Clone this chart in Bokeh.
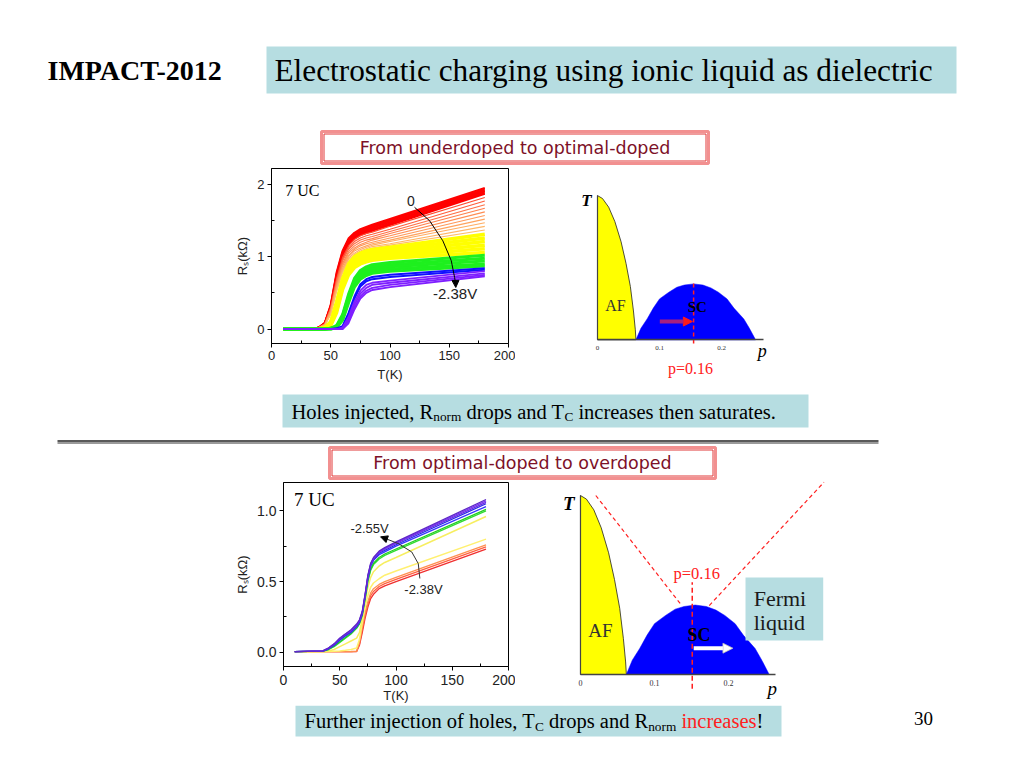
from bokeh.plotting import figure
from bokeh.layouts import column, row
from bokeh.models import Range1d, Arrow, NormalHead, Spacer, FixedTicker, CustomJSTickFormatter
from bokeh.embed import file_html
from bokeh.resources import INLINE
from bokeh.core.properties import value

# ---------------- upper panel: underdoped -> optimal (0 V ... -2.38 V) ----------------
top_T = [10, 35, 40, 45, 50, 55, 60, 65, 70, 75, 80, 85, 100, 180]
top_red_R = [
    [0, 0, 0.02, 0.08, 0.33, 0.78, 1.08, 1.25, 1.33, 1.38, 1.41, 1.44, 1.52, 1.95],
    [0, 0, 0.02, 0.08, 0.32, 0.76, 1.06, 1.23, 1.31, 1.36, 1.39, 1.42, 1.50, 1.93],
    [0, 0, 0.02, 0.08, 0.31, 0.74, 1.04, 1.21, 1.29, 1.34, 1.37, 1.40, 1.48, 1.91],
    [0, 0, 0.02, 0.08, 0.30, 0.72, 1.02, 1.19, 1.27, 1.32, 1.35, 1.38, 1.46, 1.89],
    [0, 0, 0.02, 0.07, 0.29, 0.70, 1.00, 1.17, 1.25, 1.30, 1.33, 1.36, 1.44, 1.87],
]
top_salmon_R = [
    [0, 0, 0.02, 0.07, 0.30, 0.70, 0.99, 1.15, 1.24, 1.29, 1.32, 1.34, 1.42, 1.82],
    [0, 0, 0.02, 0.07, 0.29, 0.68, 0.96, 1.12, 1.21, 1.26, 1.29, 1.31, 1.38, 1.77],
    [0, 0, 0.02, 0.07, 0.28, 0.66, 0.94, 1.10, 1.18, 1.23, 1.26, 1.28, 1.35, 1.72],
    [0, 0, 0.02, 0.06, 0.27, 0.64, 0.91, 1.07, 1.15, 1.20, 1.23, 1.25, 1.32, 1.67],
    [0, 0, 0.02, 0.06, 0.26, 0.62, 0.89, 1.05, 1.12, 1.17, 1.20, 1.23, 1.29, 1.62],
    [0, 0, 0.02, 0.06, 0.25, 0.60, 0.87, 1.02, 1.10, 1.15, 1.18, 1.20, 1.26, 1.57],
    [0, 0, 0.02, 0.06, 0.24, 0.58, 0.84, 1.00, 1.08, 1.12, 1.15, 1.18, 1.23, 1.52],
    [0, 0, 0.01, 0.05, 0.22, 0.56, 0.82, 0.98, 1.05, 1.10, 1.13, 1.16, 1.21, 1.47],
    [0, 0, 0.01, 0.05, 0.21, 0.54, 0.80, 0.96, 1.03, 1.08, 1.11, 1.14, 1.18, 1.42],
    [0, 0, 0.01, 0.05, 0.20, 0.52, 0.78, 0.94, 1.01, 1.06, 1.09, 1.12, 1.16, 1.37],
]
top_yellow_R = [
    [0, 0, 0, 0.02, 0.10, 0.38, 0.70, 0.90, 1.00, 1.05, 1.08, 1.10, 1.13, 1.31],
    [0, 0, 0, 0.02, 0.09, 0.35, 0.67, 0.87, 0.97, 1.02, 1.05, 1.07, 1.10, 1.26],
    [0, 0, 0, 0.01, 0.08, 0.32, 0.64, 0.84, 0.94, 0.99, 1.02, 1.04, 1.07, 1.21],
    [0, 0, 0, 0.01, 0.07, 0.29, 0.61, 0.81, 0.91, 0.96, 0.99, 1.01, 1.04, 1.16],
    [0, 0, 0, 0.01, 0.06, 0.26, 0.58, 0.78, 0.88, 0.93, 0.96, 0.98, 1.01, 1.11],
    [0, 0, 0, 0.01, 0.05, 0.23, 0.55, 0.75, 0.85, 0.90, 0.93, 0.95, 0.98, 1.06],
]
top_green_R = [
    [0, 0, 0, 0, 0.01, 0.05, 0.20, 0.48, 0.70, 0.81, 0.86, 0.89, 0.92, 1.02],
    [0, 0, 0, 0, 0.01, 0.04, 0.18, 0.45, 0.67, 0.78, 0.83, 0.86, 0.89, 0.98],
    [0, 0, 0, 0, 0.01, 0.03, 0.16, 0.42, 0.64, 0.75, 0.80, 0.83, 0.86, 0.94],
    [0, 0, 0, 0, 0, 0.03, 0.14, 0.39, 0.61, 0.72, 0.77, 0.80, 0.83, 0.90],
    [0, 0, 0, 0, 0, 0.02, 0.12, 0.36, 0.58, 0.69, 0.74, 0.77, 0.80, 0.87],
]
top_blue_R = [
    [0, 0, 0, 0, 0, 0.01, 0.04, 0.22, 0.45, 0.62, 0.69, 0.72, 0.75, 0.84],
    [0, 0, 0, 0, 0, 0, 0.03, 0.20, 0.42, 0.59, 0.66, 0.69, 0.72, 0.82],
]
top_violet_R = [
    [0, 0, 0, 0, 0, 0, 0.02, 0.17, 0.38, 0.53, 0.61, 0.64, 0.67, 0.80],
    [0, 0, 0, 0, 0, 0, 0.01, 0.14, 0.34, 0.49, 0.57, 0.61, 0.64, 0.77],
    [0, 0, 0, 0, 0, 0, 0, 0.11, 0.30, 0.45, 0.53, 0.57, 0.61, 0.75],
    [0, 0, 0, 0, 0, 0, 0, 0.08, 0.27, 0.42, 0.50, 0.54, 0.58, 0.73],
]

# ---------------- lower panel: optimal -> overdoped (-2.38 V ... -2.55 V) ----------------
bot_T = [10, 35, 40, 45, 50, 55, 60, 65, 67.5, 70, 72.5, 75, 77.5, 80, 85, 90, 100, 180]
bot_orange_R = [
    [0.005, 0.005, 0.005, 0.005, 0.005, 0.005, 0.005, 0.006, 0.05, 0.14, 0.24, 0.32, 0.38, 0.41, 0.45, 0.47, 0.50, 0.73],
    [0.005, 0.005, 0.005, 0.005, 0.005, 0.005, 0.005, 0.007, 0.06, 0.16, 0.26, 0.34, 0.40, 0.43, 0.465, 0.485, 0.515, 0.745],
    [0.005, 0.005, 0.005, 0.005, 0.005, 0.005, 0.006, 0.008, 0.07, 0.18, 0.28, 0.36, 0.42, 0.45, 0.48, 0.50, 0.53, 0.76],
]
bot_yellow_R = [
    [0.005, 0.005, 0.006, 0.008, 0.010, 0.014, 0.020, 0.030, 0.09, 0.21, 0.32, 0.40, 0.46, 0.49, 0.52, 0.545, 0.575, 0.80],
    [0.005, 0.006, 0.010, 0.020, 0.040, 0.060, 0.080, 0.100, 0.14, 0.24, 0.36, 0.46, 0.53, 0.57, 0.61, 0.635, 0.67, 0.96],
]
bot_green_R = [
    [0.005, 0.008, 0.020, 0.040, 0.070, 0.100, 0.130, 0.170, 0.20, 0.26, 0.37, 0.50, 0.58, 0.62, 0.66, 0.685, 0.72, 1.00],
    [0.005, 0.008, 0.020, 0.045, 0.075, 0.105, 0.135, 0.175, 0.205, 0.265, 0.38, 0.51, 0.59, 0.63, 0.67, 0.695, 0.73, 1.01],
]
bot_blue_R = [
    [0.005, 0.009, 0.025, 0.050, 0.085, 0.115, 0.140, 0.180, 0.21, 0.27, 0.39, 0.52, 0.61, 0.65, 0.69, 0.71, 0.75, 1.03],
    [0.005, 0.009, 0.025, 0.050, 0.090, 0.120, 0.145, 0.185, 0.215, 0.275, 0.395, 0.53, 0.615, 0.655, 0.70, 0.72, 0.76, 1.05],
]
bot_violet_R = [
    [0.005, 0.010, 0.030, 0.055, 0.095, 0.125, 0.150, 0.190, 0.22, 0.28, 0.40, 0.535, 0.62, 0.66, 0.705, 0.73, 0.77, 1.06],
    [0.005, 0.010, 0.030, 0.060, 0.100, 0.130, 0.155, 0.195, 0.225, 0.285, 0.405, 0.54, 0.625, 0.665, 0.71, 0.735, 0.775, 1.07],
    [0.005, 0.010, 0.030, 0.060, 0.100, 0.130, 0.160, 0.200, 0.23, 0.29, 0.41, 0.545, 0.63, 0.67, 0.715, 0.74, 0.78, 1.08],
]

# ---------------- phase diagram (schematic) ----------------
af_p = [0, 0.008, 0.018, 0.028, 0.038, 0.046, 0.053, 0.058, 0.061, 0.062]
af_T = [1.0, 0.98, 0.92, 0.82, 0.68, 0.53, 0.37, 0.20, 0.07, 0.0]
sc_p = [0.062, 0.07, 0.08, 0.09, 0.10, 0.115, 0.128, 0.14, 0.155, 0.17, 0.183, 0.195, 0.209, 0.22, 0.236, 0.245, 0.255]
sc_T = [0.0, 0.08, 0.145, 0.22, 0.284, 0.33, 0.365, 0.38, 0.388, 0.38, 0.36, 0.33, 0.284, 0.22, 0.145, 0.08, 0.0]
p_opt = 0.155
fl_left_p = [0.0207, 0.135]
fl_left_T = [1.0, 0.395]
fl_right_p = [0.174, 0.329]
fl_right_T = [0.385, 1.074]

# ---------------- styles ----------------
SERIF = "Liberation Serif"
SANS = "Liberation Sans"
TEAL = "#b6dde1"

TW = {' ': 250, '!': 333, ',': 250, '.': 250, '-': 333, '=': 564,
      '0': 500, '1': 500, '2': 500, '3': 500, '4': 500, '5': 500, '6': 500, '7': 500, '8': 500, '9': 500,
      'A': 722, 'B': 667, 'C': 667, 'D': 722, 'E': 611, 'F': 556, 'G': 722, 'H': 722, 'I': 333, 'J': 389,
      'K': 722, 'L': 611, 'M': 889, 'N': 722, 'O': 722, 'P': 556, 'Q': 722, 'R': 667, 'S': 556, 'T': 611,
      'U': 722, 'V': 722, 'W': 944, 'X': 722, 'Y': 722, 'Z': 611,
      'a': 444, 'b': 500, 'c': 444, 'd': 500, 'e': 444, 'f': 333, 'g': 500, 'h': 500, 'i': 278, 'j': 278,
      'k': 500, 'l': 278, 'm': 778, 'n': 500, 'o': 500, 'p': 500, 'q': 500, 'r': 333, 's': 389, 't': 278,
      'u': 500, 'v': 500, 'w': 722, 'x': 500, 'y': 500, 'z': 444}


def tw(s, size):
    return sum(TW.get(ch, 500) for ch in s) * size / 1000.0


def deco(x0, x1, y0, y1):
    f = figure(width=x1 - x0, height=y1 - y0, x_range=Range1d(x0, x1), y_range=Range1d(y1, y0),
               output_backend="svg", toolbar_location=None, x_axis_type=None, y_axis_type=None,
               min_border=0)
    f.grid.visible = False
    f.outline_line_color = None
    return f


def txt(f, x, y, s, size, color="black", font=SERIF, align="left", style="normal"):
    f.text(x=[x], y=[y], text=[s], text_font=value(font), text_font_size=f"{size}px",
           text_color=color, text_align=align, text_baseline="middle", text_font_style=style)


def rich(f, x, y, parts):
    for s, size, dy, color in parts:
        lead = len(s) - len(s.lstrip(' '))
        trail = len(s) - len(s.rstrip(' '))
        core = s.strip(' ')
        x += lead * 250 * size / 1000.0
        txt(f, x, y + dy, core, size, color)
        x += tw(core, size) + trail * 250 * size / 1000.0


def red_box(f, l, r, t, b, label):
    f.quad(left=[l], right=[r], top=[t], bottom=[b], fill_color="white", line_color="#f29090", line_width=3)
    f.quad(left=[l + 2.5], right=[r - 2.5], top=[t + 2.5], bottom=[b - 2.5], fill_color=None,
           line_color="#e03838", line_width=1)
    txt(f, (l + r) / 2, (t + b) / 2, label, 17.5, color="#7d1128", font="DejaVu Sans", align="center")


def style_chart(c, tick_size):
    for ax in (c.xaxis[0], c.yaxis[0]):
        ax.axis_line_color = "black"
        ax.major_tick_line_color = "black"
        ax.minor_tick_line_color = "black"
        ax.major_tick_out = 4
        ax.major_tick_in = 0
        ax.minor_tick_in = 3
        ax.minor_tick_out = 0
        ax.major_label_text_font = SANS
        ax.major_label_text_font_size = f"{tick_size}px"
        ax.major_label_text_color = "#222222"
        ax.axis_label_text_font = SANS
        ax.axis_label_text_font_style = "normal"
        ax.axis_label_text_font_size = "13px"
        ax.axis_label_text_color = "#222222"
        ax.major_label_standoff = 3
        ax.axis_label_standoff = 4
    c.grid.visible = False
    c.outline_line_color = "black"
    c.outline_line_alpha = 1.0


def phase_fig(width, height, xr, yr, xb, lab_size):
    ph = figure(width=width, height=height, x_range=Range1d(*xr), y_range=Range1d(*yr),
                output_backend="svg", toolbar_location=None, min_border=0)
    ph.grid.visible = False
    ph.outline_line_color = None
    xa, ya = ph.xaxis[0], ph.yaxis[0]
    xa.fixed_location = 0
    ya.fixed_location = 0
    xa.bounds = (0, xb)
    ya.bounds = (0, 1.0)
    xa.ticker = FixedTicker(ticks=[0, 0.1, 0.2], minor_ticks=[])
    xa.formatter = CustomJSTickFormatter(code="return tick == 0 ? '0' : tick.toFixed(1)")
    xa.major_tick_in = 0
    xa.major_tick_out = 0
    xa.major_label_standoff = 6
    xa.major_label_text_font = SERIF
    xa.major_label_text_font_size = f"{lab_size}px"
    xa.major_label_text_color = "#333333"
    xa.axis_line_color = "#444444"
    xa.axis_line_width = 1.5
    ya.ticker = FixedTicker(ticks=[], minor_ticks=[])
    ya.axis_line_color = "#444444"
    ya.axis_line_width = 1.2
    ya.major_tick_in = 0
    ya.major_tick_out = 0
    return ph


# ================= band A: header =================
bandA = deco(0, 1008, 0, 166)
txt(bandA, 47, 70, "IMPACT-2012", 28, style="bold")
bandA.quad(left=[266], right=[956], top=[46], bottom=[93], fill_color=TEAL, line_color=None)
txt(bandA, 274, 70, "Electrostatic charging using ionic liquid as dielectric", 31.3)
red_box(bandA, 321, 708, 131, 163, "From underdoped to optimal-doped")

# ================= chart 1 =================
c1 = figure(width=283, height=224, x_range=Range1d(0, 200), y_range=Range1d(-0.2, 2.22),
            output_backend="svg", toolbar_location=None,
            min_border_left=39, min_border_right=7, min_border_top=2, min_border_bottom=47)
style_chart(c1, 13)
c1.xaxis[0].ticker = FixedTicker(ticks=[0, 50, 100, 150, 200], minor_ticks=[25, 75, 125, 175])
c1.yaxis[0].ticker = FixedTicker(ticks=[0, 1, 2], minor_ticks=[0.5, 1.5])
c1.xaxis[0].axis_label = "T(K)"
c1.yaxis[0].axis_label = "R\u209b(k\u03a9)"

red_cols = ["#ff0000"] * 5
salmon_cols = ["#ff4a30", "#ff5c3a", "#ff6e44", "#ff7f4c", "#ff8c52", "#ff9858", "#ffa35e", "#ffad62",
               "#ffb666", "#ffbe6a"]
for R, col in zip(top_red_R, red_cols):
    c1.line(top_T, R, line_color=col, line_width=2.2)
for R, col in zip(top_salmon_R, salmon_cols):
    c1.line(top_T, R, line_color=col, line_width=1.1)
for R in top_yellow_R:
    c1.line(top_T, R, line_color="#ffff00", line_width=3.5)
for R in top_green_R:
    c1.line(top_T, R, line_color="#1ef01e", line_width=3)
for R in top_blue_R:
    c1.line(top_T, R, line_color="#1010ff", line_width=2)
for R in top_violet_R:
    c1.line(top_T, R, line_color="#7f1fff", line_width=1.8)

c1.text(x=[11.6], y=[1.915], text=["7 UC"], text_font=value(SERIF), text_font_size="16px",
        text_baseline="middle")
c1.text(x=[117.6], y=[1.767], text=["0"], text_font=value(SANS), text_font_size="14px",
        text_baseline="middle", text_align="center", text_color="#222222")
c1.text(x=[154.9], y=[0.489], text=["-2.38V"], text_font=value(SANS), text_font_size="15px",
        text_baseline="middle", text_align="center", text_color="#222222")
c1.line([120.7, 133.4, 144.6, 151.7, 154.5, 155.3], [1.684, 1.498, 1.22, 0.945, 0.714, 0.63],
        line_color="black", line_width=1)
c1.add_layout(Arrow(end=NormalHead(size=7, fill_color="black", line_color="black"),
                    x_start=155.3, y_start=0.66, x_end=155.5, y_end=0.575, line_color="black",
                    line_width=1))

# ================= phase diagram 1 (canvas x 575..775, y 166..390) =================
ph1 = phase_fig(200, 224, (-0.0355, 0.2871), (-0.351, 1.2017), 0.268, 7)
ph1.patch(af_p + [0], af_T + [0], fill_color="#ffff00", line_color="#222222", line_width=0.8)
ph1.patch(sc_p, sc_T, fill_color="#0000ff", line_color="#0000ff", line_width=0.5)
ph1.line([p_opt, p_opt], [-0.025, 0.41], line_color="#ff2020", line_width=1.5, line_dash="4 3")
ph1.add_layout(Arrow(end=NormalHead(size=9, fill_color="#ff1a1a", line_color="#ff1a1a"),
                     x_start=0.1005, y_start=0.127, x_end=0.153, y_end=0.127,
                     line_color="#a8207e", line_width=4))
ph1.text(x=[0.029], y=[0.239], text=["AF"], text_font=value(SERIF), text_font_size="16px",
         text_align="center", text_baseline="middle", text_color="#333333")
ph1.text(x=[0.161], y=[0.225], text=["SC"], text_font=value(SERIF), text_font_size="15px",
         text_align="center", text_baseline="middle", text_font_style="bold", text_color="black")
ph1.text(x=[-0.0177], y=[0.965], text=["T"], text_font=value(SERIF), text_font_size="17px",
         text_font_style="bold italic", text_align="center", text_baseline="middle")
ph1.text(x=[0.2656], y=[-0.074], text=["p"], text_font=value(SERIF), text_font_size="18px",
         text_font_style="italic", text_align="center", text_baseline="middle")
ph1.text(x=[0.150], y=[-0.197], text=["p=0.16"], text_font=value(SERIF), text_font_size="16px",
         text_color="#ff2020", text_align="center", text_baseline="middle")

bandB = row(Spacer(width=232, height=224), column(c1), Spacer(width=60, height=224), column(ph1),
            Spacer(width=233, height=224), spacing=0)

# ================= band C: caption 1, separator, subtitle 2 =================
bandC = deco(0, 1008, 390, 480)
bandC.quad(left=[282], right=[808], top=[394], bottom=[427], fill_color=TEAL, line_color=None)
rich(bandC, 291, 411, [("Holes injected, R", 20.5, 0, "black"), ("norm", 13.3, 5, "black"),
                       (" drops and T", 20.5, 0, "black"), ("C", 13.3, 5, "black"),
                       (" increases then saturates.", 20.5, 0, "black")])
bandC.line([57, 878], [440.5, 440.5], line_color="#222222", line_width=1.5)
bandC.line([57, 878], [442.6, 442.6], line_color="#9a9a9a", line_width=2)
red_box(bandC, 329, 715, 447, 478, "From optimal-doped to overdoped")

# ================= chart 2 =================
c2 = figure(width=283, height=225, x_range=Range1d(0, 200), y_range=Range1d(-0.1, 1.2),
            output_backend="svg", toolbar_location=None,
            min_border_left=47, min_border_right=7, min_border_top=2, min_border_bottom=37)
style_chart(c2, 14)
c2.xaxis[0].ticker = FixedTicker(ticks=[0, 50, 100, 150, 200], minor_ticks=[25, 75, 125, 175])
c2.yaxis[0].ticker = FixedTicker(ticks=[0, 0.5, 1.0], minor_ticks=[0.25, 0.75])
c2.yaxis[0].formatter = CustomJSTickFormatter(code="return tick.toFixed(1)")
c2.xaxis[0].axis_label = "T(K)"
c2.xaxis[0].axis_label_standoff = 0
c2.xaxis[0].major_label_standoff = 4
c2.yaxis[0].axis_label = "R\u209b(k\u03a9)"

for R, col in zip(bot_orange_R, ["#f03030", "#ff6040", "#ff9050"]):
    c2.line(bot_T, R, line_color=col, line_width=1.3)
for R, col in zip(bot_yellow_R, ["#fff070", "#f7ee60"]):
    c2.line(bot_T, R, line_color=col, line_width=1.5)
for R, col in zip(bot_green_R, ["#30dd30", "#22cc22"]):
    c2.line(bot_T, R, line_color=col, line_width=1.3)
for R, col in zip(bot_blue_R, ["#3535ff", "#2a2ae8"]):
    c2.line(bot_T, R, line_color=col, line_width=1.3)
for R, col in zip(bot_violet_R, ["#6a2de0", "#7b35f0", "#5e28c8"]):
    c2.line(bot_T, R, line_color=col, line_width=1.3)

c2.text(x=[9.3], y=[1.082], text=["7 UC"], text_font=value(SERIF), text_font_size="19px",
        text_baseline="middle")
c2.text(x=[76.5], y=[0.872], text=["-2.55V"], text_font=value(SANS), text_font_size="13px",
        text_baseline="middle", text_align="center", text_color="#222222")
c2.text(x=[124.4], y=[0.445], text=["-2.38V"], text_font=value(SANS), text_font_size="13px",
        text_baseline="middle", text_align="center", text_color="#222222")
c2.line([121.2, 119.8, 114.0, 102.4, 92.0], [0.522, 0.627, 0.709, 0.767, 0.80],
        line_color="#333333", line_width=1)
c2.add_layout(Arrow(end=NormalHead(size=7, fill_color="black", line_color="black"),
                    x_start=92.0, y_start=0.80, x_end=86.3, y_end=0.816, line_color="#333333",
                    line_width=1))

# ================= phase diagram 2 (canvas x 560..835, y 480..705) =================
ph2 = phase_fig(275, 225, (-0.027, 0.3446), (-0.1732, 1.0838), 0.264, 8)
ph2.patch(af_p + [0], af_T + [0], fill_color="#ffff00", line_color="#222222", line_width=0.8)
ph2.patch(sc_p, sc_T, fill_color="#0000ff", line_color="#0000ff", line_width=0.5)
ph2.line(fl_left_p, fl_left_T, line_color="#ff2020", line_width=1.2, line_dash="4 3")
ph2.line(fl_right_p, fl_right_T, line_color="#ff2020", line_width=1.2, line_dash="4 3")
ph2.line([0.151, 0.151], [-0.08, 0.516], line_color="#ff2020", line_width=1.5, line_dash="5 3")
ph2.add_layout(Arrow(end=NormalHead(size=10, fill_color="white", line_color="#bbbbbb", line_width=0.8),
                     x_start=0.153, y_start=0.147, x_end=0.206, y_end=0.147,
                     line_color="white", line_width=4))
ph2.quad(left=[0.223], right=[0.328], bottom=[0.19], top=[0.542], fill_color=TEAL, line_color=None)
ph2.text(x=[0.234, 0.234], y=[0.426, 0.292], text=["Fermi", "liquid"], text_font=value(SERIF),
         text_font_size="22px", text_baseline="middle", text_color="#1a1a1a")
ph2.text(x=[0.157], y=[0.5626], text=["p=0.16"], text_font=value(SERIF), text_font_size="16.5px",
         text_align="center", text_baseline="middle", text_color="#ff2020")
ph2.text(x=[0.027], y=[0.246], text=["AF"], text_font=value(SERIF), text_font_size="19px",
         text_align="center", text_baseline="middle", text_color="#333333")
ph2.text(x=[0.16], y=[0.218], text=["SC"], text_font=value(SERIF), text_font_size="18px",
         text_align="center", text_baseline="middle", text_font_style="bold", text_color="black")
ph2.text(x=[-0.0158], y=[0.955], text=["T"], text_font=value(SERIF), text_font_size="19px",
         text_font_style="bold italic", text_align="center", text_baseline="middle")
ph2.text(x=[0.259], y=[-0.078], text=["p"], text_font=value(SERIF), text_font_size="19px",
         text_font_style="italic", text_align="center", text_baseline="middle")

bandD = row(Spacer(width=232, height=225), column(c2), Spacer(width=45, height=225), column(ph2),
            Spacer(width=173, height=225), spacing=0)

# ================= band E: caption 2, page number =================
bandE = deco(0, 1008, 705, 760)
bandE.quad(left=[295], right=[781], top=[705], bottom=[736], fill_color=TEAL, line_color=None)
rich(bandE, 304, 720.5, [("Further injection of holes, T", 20.5, 0, "black"), ("C", 13.3, 5, "black"),
                         (" drops and R", 20.5, 0, "black"), ("norm", 13.3, 5, "black"),
                         (" increases", 20.5, 0, "#ff2020"), ("!", 20.5, 0, "black")])
txt(bandE, 923, 718, "30", 19, align="center")

page = column(bandA, bandB, bandC, bandD, bandE, spacing=0)
open("out.html", "w").write(file_html(page, INLINE))
